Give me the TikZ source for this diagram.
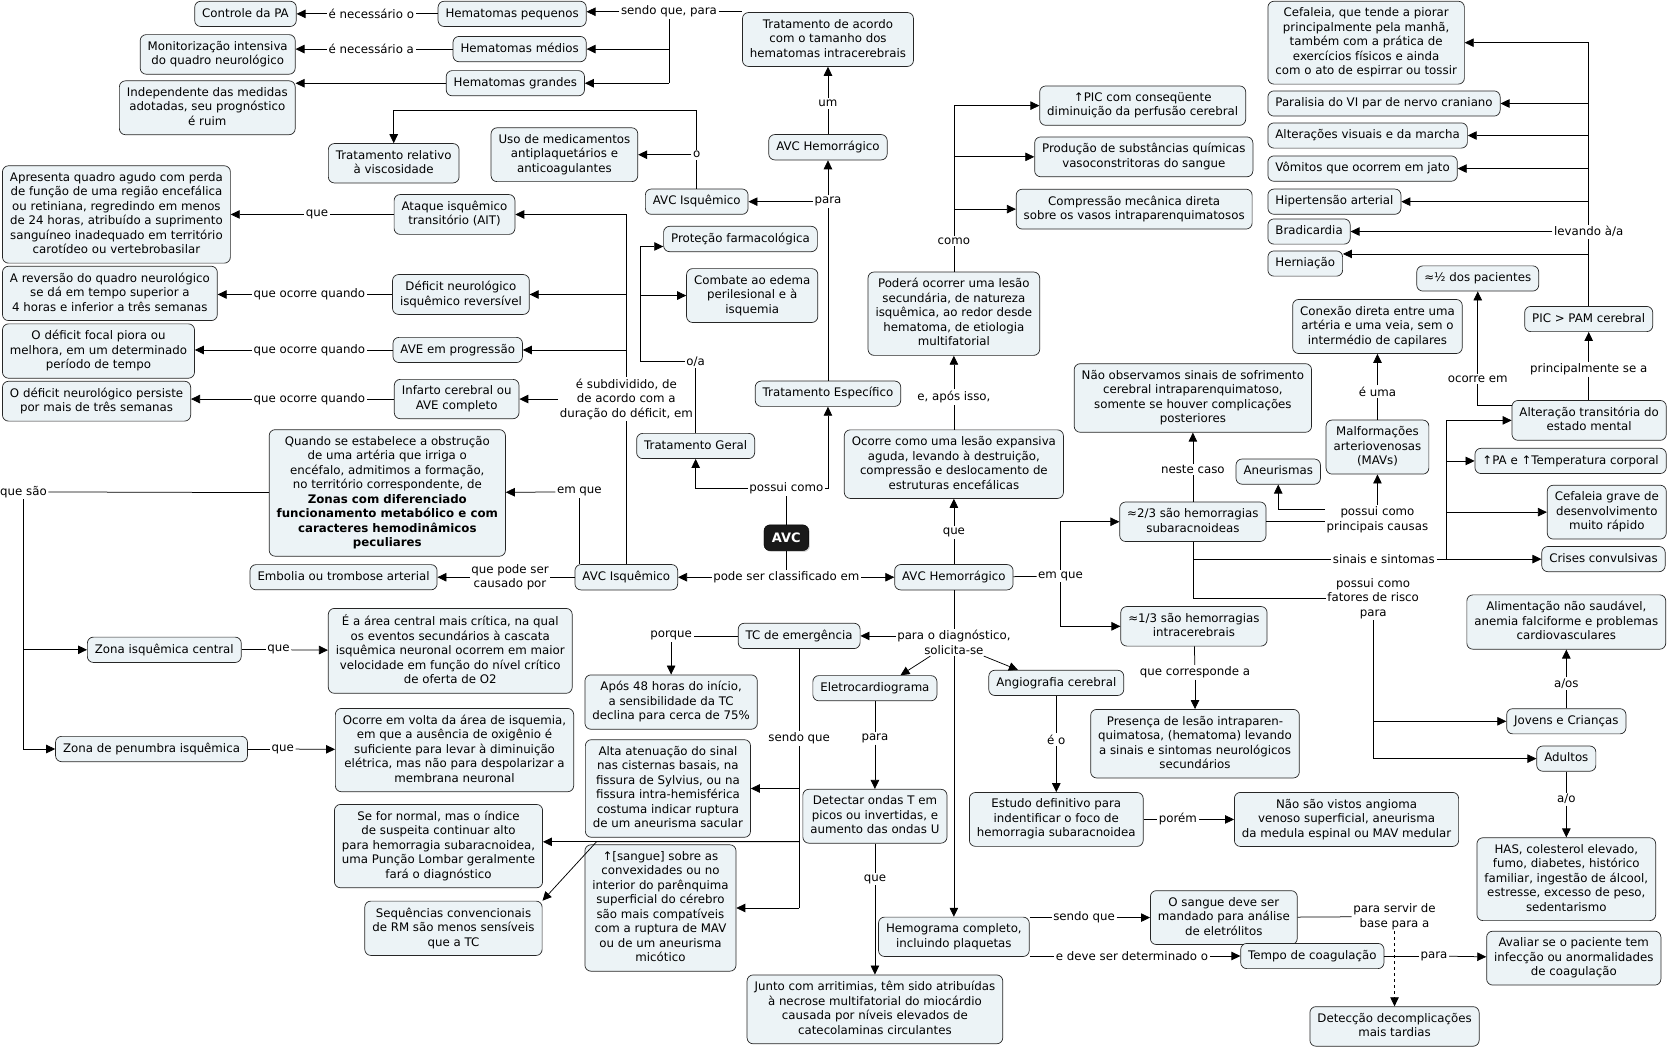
\documentclass[tikz,border=0pt]{standalone}
\usepackage{fontspec}
\setmainfont{DejaVu Sans}
\usetikzlibrary{arrows.meta,calc,shadows}
\definecolor{cfill}{RGB}{236,243,246}
\newcommand\cmfont{\fontsize{11.8}{14.5}\selectfont}
\begin{document}
\begin{tikzpicture}[x=1.067pt,y=-1.067pt,
    concept/.style={draw=black!85, line width=0.7pt, fill=cfill, rounded corners=6pt,
      align=center, inner xsep=7.5pt, inner ysep=6.5pt, font=\cmfont,
      execute at begin node={\rule{0pt}{9.3pt}},
      execute at end node={\rule[-2.9pt]{0pt}{2.9pt}}},
    root/.style={draw=black, fill=black!90, text=white, rounded corners=6pt,
      font=\bfseries\fontsize{13}{15}\selectfont, inner xsep=8pt, inner ysep=8pt,
      drop shadow={shadow xshift=1.2pt, shadow yshift=-1.2pt, fill=black!35}},
    lnk/.style={font=\cmfont, align=center, inner sep=1.5pt},
    ln/.style={line width=0.75pt},
    arr/.style={line width=0.75pt, -{Triangle[length=9pt,width=8.5pt]}}]
  \useasboundingbox (0,0) rectangle (1568,984);

  \node[root] (avc) at (737,504) {AVC};
  \node[lnk] (pc) at (737,458) {possui como};
  \node[lnk] (psc) at (737,541) {pode ser classificado em};
  \node[concept] (isqlow) at (587,541) {AVC Isquêmico};
  \node[concept] (hemlow) at (894,541) {AVC Hemorrágico};

  % tratamento
  \node[concept] (tratger) at (652,418) {Tratamento Geral};
  \node[concept] (espec) at (776,369) {Tratamento Específico};
  \node[lnk] (oa) at (652,339) {o/a};
  \node[concept] (protec) at (694,224) {Proteção farmacológica};
  \node[concept] (combate) at (705,277) {Combate ao edema\\perilesional e à\\isquemia};
  \coordinate (trtop) at (600,231);
  \node[lnk] (paraA) at (776,189) {para};
  \node[concept] (isqtop) at (653,189) {AVC Isquêmico};
  \node[concept] (hemtop) at (776,138) {AVC Hemorrágico};
  \node[lnk] (um) at (776,97) {um};
  \node[concept] (tratac) at (776,37) {Tratamento de acordo\\com o tamanho dos\\hematomas intracerebrais};
  \node[lnk] (oA) at (653,145) {o};
  \coordinate (oturn) at (653,103);
  \node[concept] (uso) at (529,145) {Uso de medicamentos\\antiplaquetários e\\anticoagulantes};
  \node[concept] (visc) at (369,153) {Tratamento relativo\\à viscosidade};
  \node[lnk] (sqp) at (627,11) {sendo que, para};
  \node[concept] (hpeq) at (480,13) {Hematomas pequenos};
  \node[concept] (hmed) at (487,46) {Hematomas médios};
  \node[concept] (hgra) at (483,78) {Hematomas grandes};
  \node[lnk] (nec1) at (348,13) {é necessário o};
  \node[lnk] (nec2) at (348,46) {é necessário a};
  \node[concept, anchor=east] (ctrlpa) at (278,13) {Controle da PA};
  \node[concept, anchor=east] (monit) at (277,51) {Monitorização intensiva\\do quadro neurológico};
  \node[concept, anchor=east] (indep) at (277,101) {Independente das medidas\\adotadas, seu prognóstico\\é ruim};

  % isquemico
  \node[lnk] (subdiv) at (587,374) {é subdividido, de\\de acordo com a\\duração do déficit, em};
  \node[concept] (ait) at (426,201) {Ataque isquêmico\\transitório (AIT)};
  \node[concept] (dnir) at (432,276) {Déficit neurológico\\isquêmico reversível};
  \node[concept] (aveprog) at (429,328) {AVE em progressão};
  \node[concept] (infarto) at (428,374) {Infarto cerebral ou\\AVE completo};
  \node[lnk] (qa) at (297,201) {que};
  \node[lnk] (qo1) at (290,276) {que ocorre quando};
  \node[lnk] (qo2) at (290,328) {que ocorre quando};
  \node[lnk] (qo3) at (290,374) {que ocorre quando};
  \node[concept, anchor=west] (apres) at (2,201) {Apresenta quadro agudo com perda\\de função de uma região encefálica\\ou retiniana, regredindo em menos\\de 24 horas, atribuído a suprimento\\sanguíneo inadequado em território\\carotídeo ou vertebrobasilar};
  \node[concept, anchor=west] (revers) at (2,275) {A reversão do quadro neurológico\\se dá em tempo superior a\\4 horas e inferior a três semanas};
  \node[concept, anchor=west] (focal) at (2,329) {O déficit focal piora ou\\melhora, em um determinado\\período de tempo};
  \node[concept, anchor=west] (persist) at (2,376) {O déficit neurológico persiste\\por mais de três semanas};
  \node[lnk] (emq) at (543,461) {em que};
  \node[concept] (zonas) at (363,462) {Quando se estabelece a obstrução\\de uma artéria que irriga o\\encéfalo, admitimos a formação,\\no território correspondente, de\\\textbf{Zonas com diferenciado}\\\textbf{funcionamento metabólico e com}\\\textbf{caracteres hemodinâmicos}\\\textbf{peculiares}};
  \node[lnk] (qs) at (22,461) {que são};
  \node[concept] (zcentral) at (154,609) {Zona isquêmica central};
  \node[concept] (zpen) at (142,702) {Zona de penumbra isquêmica};
  \node[lnk] (qz1) at (261,609) {que};
  \node[lnk] (qz2) at (265,702) {que};
  \node[concept] (centdesc) at (422,610) {É a área central mais crítica, na qual\\os eventos secundários à cascata\\isquêmica neuronal ocorrem em maior\\velocidade em função do nível crítico\\de oferta de O2};
  \node[concept] (pendesc) at (426,703) {Ocorre em volta da área de isquemia,\\em que a ausência de oxigênio é\\suficiente para levar à diminuição\\elétrica, mas não para despolarizar a\\membrana neuronal};
  \node[lnk] (qps) at (478,541) {que pode ser\\causado por};
  \node[concept] (embolia) at (322,541) {Embolia ou trombose arterial};

  % hemorragico
  \node[lnk] (qh) at (894,499) {que};
  \node[concept] (ocorre) at (894,435) {Ocorre como uma lesão expansiva\\aguda, levando à destruição,\\compressão e deslocamento de\\estruturas encefálicas};
  \node[lnk] (eapos) at (894,372) {e, após isso,};
  \node[concept] (podera) at (894,294) {Poderá ocorrer uma lesão\\secundária, de natureza\\isquêmica, ao redor desde\\hematoma, de etiologia\\multifatorial};
  \node[lnk] (como) at (894,226) {como};
  \node[concept] (pic) at (1071,99) {↑PIC com conseqüente\\diminuição da perfusão cerebral};
  \node[concept] (produc) at (1072,147) {Produção de substâncias químicas\\vasoconstritoras do sangue};
  \node[concept] (compress) at (1063,196) {Compressão mecânica direta\\sobre os vasos intraparenquimatosos};
  \node[lnk] (emq2) at (994,540) {em que};
  \node[concept] (dois3) at (1118,489) {≈2/3 são hemorragias\\subaracnoideas};
  \node[concept] (um3) at (1119,587) {≈1/3 são hemorragias\\intracerebrais};
  \node[lnk] (neste) at (1118,440) {neste caso};
  \node[concept] (naoobs) at (1118,373) {Não observamos sinais de sofrimento\\cerebral intraparenquimatoso,\\somente se houver complicações\\posteriores};
  \node[lnk] (ppc) at (1291,487) {possui como\\principais causas};
  \node[concept] (aneur) at (1198,442) {Aneurismas};
  \node[concept] (mav) at (1291,419) {Malformações\\arteriovenosas\\(MAVs)};
  \node[lnk] (euma) at (1291,367) {é uma};
  \node[concept] (conexao) at (1291,306) {Conexão direta entre uma\\artéria e uma veia, sem o\\intermédio de capilares};
  \node[lnk] (sinais) at (1297,524) {sinais e sintomas};
  \coordinate (sstrunk) at (1356,524);
  \node[concept, anchor=east] (altest) at (1562,394) {Alteração transitória do\\estado mental};
  \node[concept, anchor=east] (pa) at (1562,432) {↑PA e ↑Temperatura corporal};
  \node[concept, anchor=east] (cefgrave) at (1562,480) {Cefaleia grave de\\desenvolvimento\\muito rápido};
  \node[concept, anchor=east] (crises) at (1561,524) {Crises convulsivas};
  \node[lnk] (psa) at (1489,346) {principalmente se a};
  \node[concept] (pam) at (1489,299) {PIC > PAM cerebral};
  \node[lnk] (ocem) at (1385,355) {ocorre em};
  \node[concept] (metade) at (1385,261) {≈½ dos pacientes};
  \node[lnk] (lev) at (1489,217) {levando à/a};
  \node[concept, anchor=west] (cefal) at (1188,40) {Cefaleia, que tende a piorar\\principalmente pela manhã,\\também com a prática de\\exercícios físicos e ainda\\com o ato de espirrar ou tossir};
  \node[concept, anchor=west] (paral) at (1188,97) {Paralisia do VI par de nervo craniano};
  \node[concept, anchor=west] (alter) at (1188,127) {Alterações visuais e da marcha};
  \node[concept, anchor=west] (vomit) at (1188,158) {Vômitos que ocorrem em jato};
  \node[concept, anchor=west] (hipert) at (1188,189) {Hipertensão arterial};
  \node[concept, anchor=west] (bradi) at (1188,217) {Bradicardia};
  \node[concept, anchor=west] (hern) at (1188,247) {Herniação};
  \node[lnk] (fatores) at (1287,561) {possui como\\fatores de risco\\para};
  \node[concept] (alim) at (1468,583) {Alimentação não saudável,\\anemia falciforme e problemas\\cardiovasculares};
  \node[lnk] (aos) at (1468,641) {a/os};
  \node[concept] (jovens) at (1468,676) {Jovens e Crianças};
  \node[concept] (adultos) at (1468,711) {Adultos};
  \node[lnk] (ao) at (1468,749) {a/o};
  \node[concept] (has) at (1468,824) {HAS, colesterol elevado,\\fumo, diabetes, histórico\\familiar, ingestão de álcool,\\estresse, excesso de peso,\\sedentarismo};
  \node[lnk] (qca) at (1120,630) {que corresponde a};
  \node[concept] (presenca) at (1120,697) {Presença de lesão intraparen-\\quimatosa, (hematoma) levando\\a sinais e sintomas neurológicos\\secundários};

  % diagnostico
  \node[lnk] (diag) at (894,602) {para o diagnóstico,\\solicita-se};
  \node[concept] (tc) at (749,596) {TC de emergência};
  \node[lnk] (pq) at (629,596) {porque};
  \node[concept] (apos) at (629,658) {Após 48 horas do início,\\a sensibilidade da TC\\declina para cerca de 75\%};
  \node[lnk] (sq2) at (749,692) {sendo que};
  \node[concept] (alta) at (626,739) {Alta atenuação do sinal\\nas cisternas basais, na\\fissura de Sylvius, ou na\\fissura intra-hemisférica\\costuma indicar ruptura\\de um aneurisma sacular};
  \node[concept] (sefor) at (411,793) {Se for normal, mas o índice\\de suspeita continuar alto\\para hemorragia subaracnoidea,\\uma Punção Lombar geralmente\\fará o diagnóstico};
  \node[concept] (seqconv) at (425,870) {Sequências convencionais\\de RM são menos sensíveis\\que a TC};
  \node[concept] (sangue) at (619,851) {↑[sangue] sobre as\\convexidades ou no\\interior do parênquima\\superficial do cérebro\\são mais compatíveis\\com a ruptura de MAV\\ou de um aneurisma\\micótico};
  \coordinate (sqmid) at (749,789);
  \coordinate (sqkink) at (559,789);
  \node[concept] (eletro) at (820,645) {Eletrocardiograma};
  \node[lnk] (para2) at (820,692) {para};
  \node[concept] (detectar) at (820,765) {Detectar ondas T em\\picos ou invertidas, e\\aumento das ondas U};
  \node[lnk] (que3) at (820,824) {que};
  \node[concept] (junto) at (820,946) {Junto com arritimias, têm sido atribuídas\\à necrose multifatorial do miocárdio\\causada por níveis elevados de\\catecolaminas circulantes};
  \node[concept] (angio) at (990,640) {Angiografia cerebral};
  \node[lnk] (eo) at (990,693) {é o};
  \node[concept] (estudo) at (990,768) {Estudo definitivo para\\indentificar o foco de\\hemorragia subaracnoidea};
  \node[lnk] (porem) at (1104,768) {porém};
  \node[concept] (naovistos) at (1262,768) {Não são vistos angioma\\venoso superficial, aneurisma\\da medula espinal ou MAV medular};
  \node[concept] (hemograma) at (894,878) {Hemograma completo,\\incluindo plaquetas};
  \node[lnk] (sq3) at (1016,860) {sendo que};
  \node[concept] (osangue) at (1147,860) {O sangue deve ser\\mandado para análise\\de eletrólitos};
  \node[lnk] (edsd) at (1061,896) {e deve ser determinado o};
  \node[concept] (tempo) at (1230,896) {Tempo de coagulação};
  \node[lnk] (para3) at (1344,896) {para};
  \node[concept] (avaliar) at (1475,898) {Avaliar se o paciente tem\\infecção ou anormalidades\\de coagulação};
  \node[lnk] (psb) at (1307,859) {para servir de\\base para a};
  \node[concept] (deteccao) at (1307,962) {Detecção decomplicações\\mais tardias};

  % ligacoes
  \draw[ln] (avc) -- (pc);
  \draw[arr] (pc.west) -| (tratger);
  \draw[arr] (pc.east) -| (espec);
  \draw[ln] (avc) -- (psc);
  \draw[arr] (psc) -- (isqlow);
  \draw[arr] (psc) -- (hemlow);

  \draw[ln] (tratger) -- (oa);
  \draw[arr] (oa.west) -| (trtop) -- (trtop -| protec.west);
  \draw[arr] (trtop |- combate) -- (combate);
  \draw[ln] (espec) -- (paraA);
  \draw[arr] (paraA) -- (hemtop);
  \draw[arr] (paraA) -- (isqtop);
  \draw[ln] (hemtop) -- (um);
  \draw[arr] (um) -- (tratac);
  \draw[ln] (isqtop) -- (oA);
  \draw[arr] (oA) -- (uso);
  \draw[arr] (oA) -- (oturn) -| (visc);
  \draw[ln] (sqp.east) -- (sqp.east -| tratac.west);
  \draw[arr] (sqp.west) -- (sqp.west -| hpeq.east);
  \draw[ln] (sqp.south) -- (sqp.south |- hgra);
  \draw[arr] (sqp.south |- hmed) -- (hmed);
  \draw[arr] (sqp.south |- hgra) -- (hgra);
  \draw[ln] (hpeq) -- (nec1);
  \draw[arr] (nec1) -- (ctrlpa);
  \draw[ln] (hmed) -- (nec2);
  \draw[arr] (nec2) -- (nec2 -| monit.east);
  \draw[arr] (hgra) -- (hgra -| indep.east);

  \draw[ln] (isqlow) -- (qps);
  \draw[arr] (qps) -- (embolia);
  \draw[ln] (emq) -- (emq |- isqlow.north);
  \draw[arr] (emq) -- (zonas);
  \draw[ln] (isqlow) -- (subdiv);
  \draw[arr] (subdiv.north) |- (ait);
  \draw[arr] (subdiv.north |- dnir) -- (dnir);
  \draw[arr] (subdiv.north |- aveprog) -- (aveprog);
  \draw[arr] (subdiv.west) -- (subdiv.west -| infarto.east);
  \draw[ln] (ait) -- (qa);
  \draw[arr] (qa) -- (apres);
  \draw[ln] (dnir) -- (qo1);
  \draw[arr] (qo1) -- (qo1 -| revers.east);
  \draw[ln] (aveprog) -- (qo2);
  \draw[arr] (qo2) -- (qo2 -| focal.east);
  \draw[ln] (infarto) -- (qo3);
  \draw[arr] (qo3) -- (qo3 -| persist.east);
  \draw[ln] (zonas) -- (qs);
  \draw[arr] (qs.south) |- (zcentral);
  \draw[arr] (qs.south) |- (zpen);
  \draw[ln] (zcentral) -- (qz1);
  \draw[arr] (qz1) -- (centdesc);
  \draw[ln] (zpen) -- (qz2);
  \draw[arr] (qz2) -- (pendesc);

  \draw[ln] (hemlow) -- (qh);
  \draw[arr] (qh) -- (ocorre);
  \draw[ln] (ocorre) -- (eapos);
  \draw[arr] (eapos) -- (podera);
  \draw[ln] (podera) -- (como);
  \draw[arr] (como.north) |- (pic);
  \draw[arr] (como.north |- produc) -- (produc);
  \draw[arr] (como.north |- compress) -- (compress);
  \draw[ln] (hemlow) -- (emq2);
  \draw[arr] (emq2.north) |- (dois3);
  \draw[arr] (emq2.south) |- (um3);
  \draw[ln] (dois3) -- (neste);
  \draw[arr] (neste) -- (naoobs);
  \draw[ln] (dois3.east) -- (dois3.east -| ppc.west);
  \draw[arr] (ppc) -- (mav);
  \draw[arr] ($(ppc.west)+(0,-10)$) -| (aneur);
  \draw[ln] (mav) -- (euma);
  \draw[arr] (euma) -- (conexao);
  \draw[ln] (dois3.south) |- (sinais);
  \draw[ln] (dois3.south) |- (fatores);
  \draw[ln] (sinais) -- (sstrunk);
  \draw[arr] (sstrunk) |- (altest);
  \draw[arr] (sstrunk) |- (pa);
  \draw[arr] (sstrunk) |- (cefgrave);
  \draw[arr] (sstrunk) -- (crises);
  \draw[ln] (psa) -- (psa |- altest.north);
  \draw[arr] (psa) -- (pam);
  \coordinate (altpt) at ($(altest.west)+(0,-14)$);
  \draw[ln] (altpt) -| (ocem);
  \draw[arr] (ocem) -- (metade);
  \draw[ln] (pam) -- (lev);
  \draw[arr] (lev.north) |- (cefal);
  \draw[arr] (lev.north |- paral) -- (paral);
  \draw[arr] (lev.north |- alter) -- (alter);
  \draw[arr] (lev.north |- vomit) -- (vomit);
  \draw[arr] (lev.north |- hipert) -- (hipert);
  \draw[arr] (lev.west) -- (lev.west -| bradi.east);
  \coordinate (hernpt) at ($(hern.east)+(0,-9)$);
  \draw[arr] (lev.south |- hernpt) -- (hernpt);
  \draw[arr] (fatores.south) |- (jovens);
  \draw[arr] (fatores.south) |- (adultos);
  \draw[ln] (jovens) -- (aos);
  \draw[arr] (aos) -- (alim);
  \draw[ln] (adultos) -- (ao);
  \draw[arr] (ao) -- (has);
  \draw[ln] (um3) -- (qca);
  \draw[arr] (qca) -- (presenca);

  \draw[ln] (hemlow) -- (diag);
  \draw[arr] (tc -| diag.west) -- (tc);
  \draw[arr] ($(diag.south)+(-22,0)$) -- ($(eletro.north)+(24,0)$);
  \draw[arr] ($(diag.south)+(28,0)$) -- ($(angio.north)+(-36,0)$);
  \draw[arr] (diag) -- (hemograma);
  \draw[ln] (tc) -- (pq);
  \draw[arr] (pq) -- (apos);
  \draw[ln] (tc) -- (sq2);
  \draw[ln] (sq2) -- (sq2 |- sangue);
  \draw[arr] (sq2 |- alta) -- (alta);
  \draw[arr] (sq2 |- sangue) -- (sangue);
  \draw[arr] (sqmid) -- (sqmid -| sefor.east);
  \draw[arr] (sqmid) -- (sqkink) -- (seqconv.north east);
  \draw[ln] (eletro) -- (para2);
  \draw[arr] (para2) -- (detectar);
  \draw[ln] (detectar) -- (que3);
  \draw[arr] (que3) -- (junto);
  \draw[ln] (angio) -- (eo);
  \draw[arr] (eo) -- (estudo);
  \draw[ln] (estudo) -- (porem);
  \draw[arr] (porem) -- (naovistos);
  \draw[ln] (hemograma.east |- sq3) -- (sq3);
  \draw[arr] (sq3) -- (osangue);
  \draw[ln] (hemograma.east |- edsd) -- (edsd);
  \draw[arr] (edsd) -- (tempo);
  \draw[ln] (tempo) -- (para3);
  \draw[arr] (para3) -- (avaliar);
  \draw[ln] (osangue) -- (psb);
  \draw[arr, dashed] (psb) -- (deteccao);
\end{tikzpicture}
\end{document}
